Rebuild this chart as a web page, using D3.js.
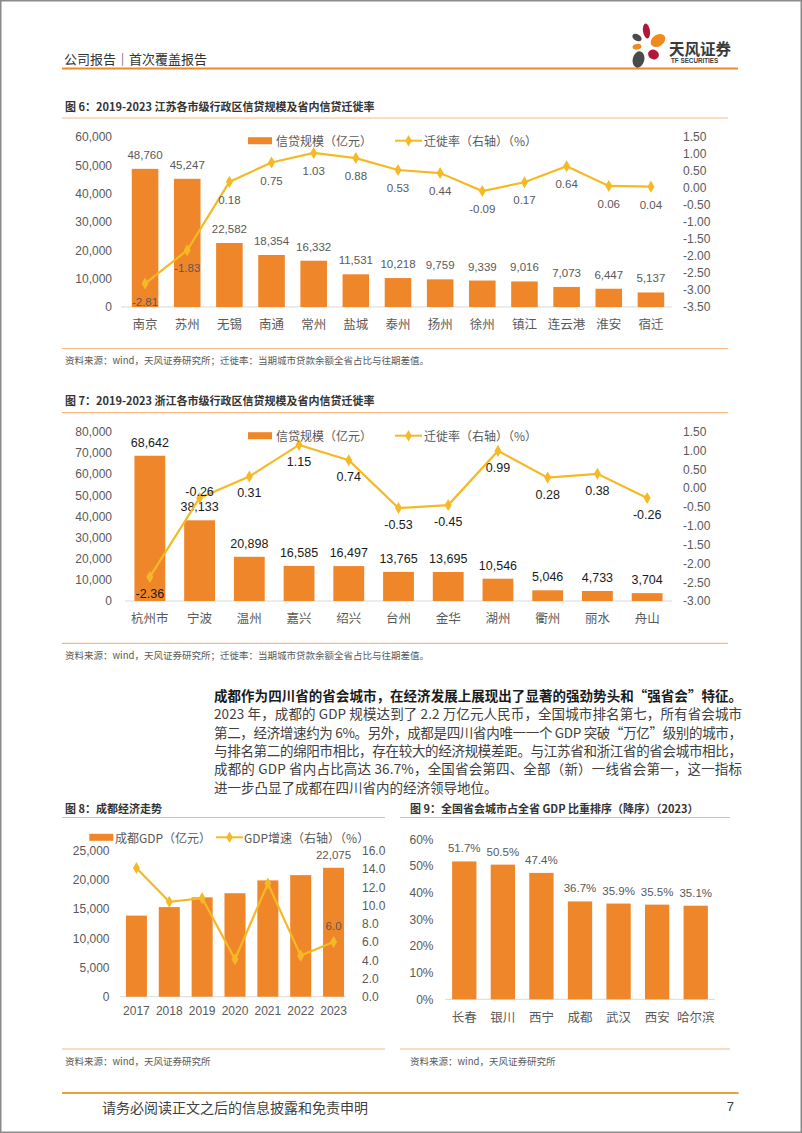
<!DOCTYPE html>
<html><head><meta charset="utf-8">
<script src="https://cdn.jsdelivr.net/npm/d3@7"></script>
<style>body{margin:0;background:#fff}svg{display:block}</style>
</head><body><svg id="c" width="802" height="1133"></svg>
<script>
// ---------- DATA ----------
const jsCities = ["南京","苏州","无锡","南通","常州","盐城","泰州","扬州","徐州","镇江","连云港","淮安","宿迁"];
const jsLoans = [48760,45247,22582,18354,16332,11531,10218,9759,9339,9016,7073,6447,5137];
const jsMigration = [-2.81,-1.83,0.18,0.75,1.03,0.88,0.53,0.44,-0.09,0.17,0.64,0.06,0.04];
const jsLeftTicks = [0,10000,20000,30000,40000,50000,60000];
const jsRightTicks = [-3.5,-3,-2.5,-2,-1.5,-1,-0.5,0,0.5,1,1.5];

const zjCities = ["杭州市","宁波","温州","嘉兴","绍兴","台州","金华","湖州","衢州","丽水","舟山"];
const zjLoans = [68642,38133,20898,16585,16497,13765,13695,10546,5046,4733,3704];
const zjMigration = [-2.36,-0.26,0.31,1.15,0.74,-0.53,-0.45,0.99,0.28,0.38,-0.26];
const zjLeftTicks = [0,10000,20000,30000,40000,50000,60000,70000,80000];
const zjRightTicks = [-3,-2.5,-2,-1.5,-1,-0.5,0,0.5,1,1.5];

const cdYears = ["2017","2018","2019","2020","2021","2022","2023"];
const cdGDP = [13889,15343,17013,17717,19917,20818,22075];
const cdGrowth = [14.1,10.4,10.8,4.1,12.4,4.5,6.0];
const cdLeftTicks = [0,5000,10000,15000,20000,25000];
const cdRightTicks = [0,2,4,6,8,10,12,14,16];

const capCities = ["长春","银川","西宁","成都","武汉","西安","哈尔滨"];
const capShare = [0.517,0.505,0.474,0.367,0.359,0.355,0.351];
const capTicks = [0,0.1,0.2,0.3,0.4,0.5,0.6];

// ---------- STYLE ----------
const ORANGE = "#F0862A", GOLD = "#F6B926", GRAY = "#595959", LIGHTLINE = "#F5B985";
const LAT = '"Liberation Sans","Noto Sans CJK SC",sans-serif';
const CJK = '"Noto Sans CJK SC",sans-serif';

const svg = d3.select("#c");
svg.append("rect").attr("width",802).attr("height",1133).attr("fill","#fff");
svg.append("rect").attr("x",0.75).attr("y",0.75).attr("width",800.5).attr("height",1131.5)
  .attr("fill","none").attr("stroke","#8a8a8a").attr("stroke-width",1.5);

function txt(x,y,s,o={}){
  const t = svg.append("text").attr("x",x).attr("y",y).text(s)
    .attr("dominant-baseline","central")
    .style("font-family",o.ff||CJK).style("font-size",(o.fs||12)+"px")
    .attr("fill",o.fill||"#333").attr("text-anchor",o.anchor||"start");
  if(o.fw) t.style("font-weight",o.fw);
  if(o.tl) t.attr("textLength",o.tl).attr("lengthAdjust","spacing");
  return t;
}
function hline(x1,x2,y,color,w){
  svg.append("line").attr("x1",x1).attr("x2",x2).attr("y1",y).attr("y2",y)
    .attr("stroke",color).attr("stroke-width",w||1);
}

// ---------- HEADER ----------
txt(64,58,"公司报告｜首次覆盖报告",{fs:13,fill:"#333"});
hline(62,738,68.5,"#EE8A2C",2);
const petals = [
  [646.5,31,3.5,7.5,-8,"#B0173B"],
  [637,37.5,5,3.3,30,"#4A4A4A"],
  [658,40.5,8,5.8,-35,"#F08A1E"],
  [637,46.8,4.5,2.8,-10,"#F08A1E"],
  [653.5,54.5,5.5,4.8,25,"#B0173B"],
  [638.5,59.5,5.8,8.3,15,"#4A4A4A"]
];
petals.forEach(p=>svg.append("ellipse").attr("cx",p[0]).attr("cy",p[1]).attr("rx",p[2]).attr("ry",p[3])
  .attr("transform",`rotate(${p[4]},${p[0]},${p[1]})`).attr("fill",p[5]));
txt(669,47.5,"天风证券",{fs:15.5,fw:"bold",fill:"#3a3a3a"});
txt(671,60.8,"TF SECURITIES",{fs:6.3,fw:"bold",fill:"#3a3a3a",ff:LAT});

// ---------- COMBO CHART ----------
function combo(c){
  const g = svg.append("g");
  const x = d3.scaleBand().domain(c.cats).range(c.xr).paddingInner(c.pad).paddingOuter(c.pad/2);
  const yL = d3.scaleLinear().domain(c.ld).range([c.yb,c.yt]);
  const la = g.append("g").attr("transform",`translate(${c.lx},0)`)
    .call(d3.axisLeft(yL).tickValues(c.lt).tickFormat(c.lf).tickSize(0).tickPadding(0));
  la.select(".domain").remove();
  la.selectAll("text").attr("fill",GRAY).style("font-family",LAT).style("font-size",c.tfs+"px");
  let yR = null;
  if(c.rd){
    yR = d3.scaleLinear().domain(c.rd).range([c.yb,c.yt]);
    const ra = g.append("g").attr("transform",`translate(${c.rx},0)`)
      .call(d3.axisRight(yR).tickValues(c.rt).tickFormat(c.rf).tickSize(0).tickPadding(0));
    ra.select(".domain").remove();
    ra.selectAll("text").attr("fill",GRAY).style("font-family",LAT).style("font-size",c.tfs+"px");
  }
  g.append("line").attr("x1",c.base[0]).attr("x2",c.base[1]).attr("y1",c.yb).attr("y2",c.yb)
    .attr("stroke","#D9D9D9").attr("stroke-width",1);
  const ba = g.append("g").attr("transform",`translate(0,${c.yb})`)
    .call(d3.axisBottom(x).tickSize(0).tickPadding(c.catPad));
  ba.select(".domain").remove();
  ba.selectAll("text").attr("fill",GRAY).style("font-family",c.catFont||CJK).style("font-size",c.cfs+"px");

  g.selectAll("rect.bar").data(c.vals).join("rect").attr("class","bar")
    .attr("x",(d,i)=>x(c.cats[i])).attr("width",x.bandwidth())
    .attr("y",d=>yL(d)).attr("height",d=>c.yb-yL(d)).attr("fill",ORANGE);
  c.vals.forEach((d,i)=>{
    if(!c.showBar(i)) return;
    g.append("text").attr("x",x(c.cats[i])+x.bandwidth()/2).attr("y",yL(d)-c.barDy)
      .attr("text-anchor","middle").attr("dominant-baseline","central")
      .style("font-family",LAT).style("font-size",c.dfs+"px").attr("fill",c.labelColor)
      .text(c.bf(d));
  });
  if(c.line){
    const cx = i=>x(c.cats[i])+x.bandwidth()/2;
    g.append("path").datum(c.line)
      .attr("d",d3.line().x((d,i)=>cx(i)).y(d=>yR(d)))
      .attr("fill","none").attr("stroke",GOLD).attr("stroke-width",2.2);
    g.selectAll("path.mk").data(c.line).join("path").attr("class","mk")
      .attr("d",d3.symbol(d3.symbolDiamond,42))
      .attr("transform",(d,i)=>`translate(${cx(i)},${yR(d)})`).attr("fill",GOLD);
    c.line.forEach((d,i)=>{
      const dy = c.lineDy(i);
      if(dy===null) return;
      g.append("text").attr("x",cx(i)).attr("y",yR(d)+dy)
        .attr("text-anchor","middle").attr("dominant-baseline","central")
        .style("font-family",LAT).style("font-size",c.dfs+"px").attr("fill",c.labelColor)
        .text(c.lfmt(d));
    });
  }
  const L = c.legend;
  if(L){
    g.append("rect").attr("x",L.sw).attr("y",L.y-3.5).attr("width",24).attr("height",7).attr("fill",ORANGE);
    g.append("text").attr("x",L.t1).attr("y",L.y).attr("dominant-baseline","central")
      .style("font-family",CJK).style("font-size",L.fs+"px").attr("fill",GRAY).text(L.s1);
    g.append("line").attr("x1",L.l1).attr("x2",L.l2).attr("y1",L.y).attr("y2",L.y)
      .attr("stroke",GOLD).attr("stroke-width",2);
    g.append("path").attr("d",d3.symbol(d3.symbolDiamond,38))
      .attr("transform",`translate(${(L.l1+L.l2)/2},${L.y})`).attr("fill",GOLD);
    g.append("text").attr("x",L.t2).attr("y",L.y).attr("dominant-baseline","central")
      .style("font-family",CJK).style("font-size",L.fs+"px").attr("fill",GRAY).text(L.s2);
  }
}

const loc = d3.formatLocale({decimal:".",thousands:",",grouping:[3],currency:["",""],minus:"-"});
const fmtInt = loc.format(","), fmt2 = loc.format(".2f"), fmt1 = loc.format(".1f");

// ---------- FIG 6 ----------
txt(65,106,"图 6：2019-2023 江苏各市级行政区信贷规模及省内信贷迁徙率",{fs:11,fw:"bold",fill:"#333"});
hline(62,728,118,LIGHTLINE,1.2);
combo({cats:jsCities,vals:jsLoans,line:jsMigration,xr:[124,672],pad:0.37,
  ld:[0,60000],lt:jsLeftTicks,lf:fmtInt,rd:[-3.5,1.5],rt:jsRightTicks,rf:fmt2,
  yb:307,yt:137,lx:112,rx:683,tfs:12,base:[121,672],catPad:13.5,cfs:12.5,
  showBar:()=>true,barDy:14,dfs:11.5,labelColor:GRAY,bf:fmtInt,
  lineDy:()=>18,lfmt:fmt2,
  legend:{y:140.7,sw:248,t1:276,l1:395,l2:422,t2:424,fs:12,s1:"信贷规模（亿元）",s2:"迁徙率（右轴）（%）"}});
hline(62,728,348.5,LIGHTLINE,1.2);
txt(65,360,"资料来源：wind，天风证券研究所；迁徙率：当期城市贷款余额全省占比与往期差值。",{fs:9.5,fill:GRAY});

// ---------- FIG 7 ----------
txt(65,400,"图 7：2019-2023 浙江各市级行政区信贷规模及省内信贷迁徙率",{fs:11,fw:"bold",fill:"#333"});
hline(62,728,412.7,LIGHTLINE,1.2);
combo({cats:zjCities,vals:zjLoans,line:zjMigration,xr:[125,672],pad:0.38,
  ld:[0,80000],lt:zjLeftTicks,lf:fmtInt,rd:[-3,1.5],rt:zjRightTicks,rf:fmt2,
  yb:601,yt:431.7,lx:112,rx:683,tfs:12,base:[125,672],catPad:13.5,cfs:12.5,
  showBar:()=>true,barDy:13,dfs:12.5,labelColor:"#1a1a1a",bf:fmtInt,
  lineDy:i=>i===1?-6:17,lfmt:fmt2,
  legend:{y:435.7,sw:248,t1:276,l1:395,l2:422,t2:424,fs:12,s1:"信贷规模（亿元）",s2:"迁徙率（右轴）（%）"}});
hline(62,728,643.3,LIGHTLINE,1.2);
txt(65,655,"资料来源：wind，天风证券研究所；迁徙率：当期城市贷款余额全省占比与往期差值。",{fs:9.5,fill:GRAY});

// ---------- PARAGRAPH ----------
const paraLines = [
  "成都作为四川省的省会城市，在经济发展上展现出了显著的强劲势头和“强省会”特征。",
  "2023 年，成都的 GDP 规模达到了 2.2 万亿元人民币，全国城市排名第七，所有省会城市",
  "第二，经济增速约为 6%。另外，成都是四川省内唯一一个 GDP 突破“万亿”级别的城市，",
  "与排名第二的绵阳市相比，存在较大的经济规模差距。与江苏省和浙江省的省会城市相比，",
  "成都的 GDP 省内占比高达 36.7%，全国省会第四、全部（新）一线省会第一，这一指标",
  "进一步凸显了成都在四川省内的经济领导地位。"
];
paraLines.forEach((s,i)=>{
  txt(214,695+i*18.35,s,{fs:13.5,fill:i===0?"#1a1a1a":"#404040",fw:i===0?"bold":null,tl:i<5?528:null});
});

// ---------- FIG 8 ----------
txt(65,807.5,"图 8：成都经济走势",{fs:11,fw:"bold",fill:"#333"});
hline(62,385,817.5,LIGHTLINE,1.2);
combo({cats:cdYears,vals:cdGDP,line:cdGrowth,xr:[120,350],pad:0.36,
  ld:[0,25000],lt:cdLeftTicks,lf:fmtInt,rd:[0,16],rt:cdRightTicks,rf:fmt1,
  yb:996.7,yt:850.7,lx:109.5,rx:362,tfs:12,base:[120,346],catPad:10,cfs:12,catFont:LAT,
  showBar:i=>i===6,barDy:13,dfs:11.5,labelColor:GRAY,bf:fmtInt,
  lineDy:i=>i===6?-16:null,lfmt:fmt1,
  legend:{y:837.3,sw:89.3,t1:115,l1:216,l2:243,t2:244,fs:12,s1:"成都GDP（亿元）",s2:"GDP增速（右轴）（%）"}});
hline(62,385,1049,LIGHTLINE,1.2);
txt(65,1061,"资料来源：wind，天风证券研究所",{fs:9.5,fill:GRAY});

// ---------- FIG 9 ----------
txt(410,807.5,"图 9：全国省会城市占全省 GDP 比重排序（降序）（2023）",{fs:11,fw:"bold",fill:"#333"});
hline(400,730,817.5,LIGHTLINE,1.2);
combo({cats:capCities,vals:capShare,line:null,xr:[445,715],pad:0.37,
  ld:[0,0.6],lt:capTicks,lf:loc.format(".0%"),rd:null,
  yb:999.3,yt:839.3,lx:433.5,tfs:12,base:[445,715],catPad:13.5,cfs:12.5,
  showBar:()=>true,barDy:13,dfs:11.5,labelColor:GRAY,bf:loc.format(".1%"),legend:null});
hline(400,730,1049,LIGHTLINE,1.2);
txt(410,1061,"资料来源：wind，天风证券研究所",{fs:9.5,fill:GRAY});

// ---------- FOOTER ----------
hline(62,738.5,1093,"#E9A33B",2);
txt(102,1106.5,"请务必阅读正文之后的信息披露和免责申明",{fs:14,fill:"#404040"});
txt(734,1106.5,"7",{fs:13,fill:"#404040",ff:LAT,anchor:"end"});
</script></body></html>
